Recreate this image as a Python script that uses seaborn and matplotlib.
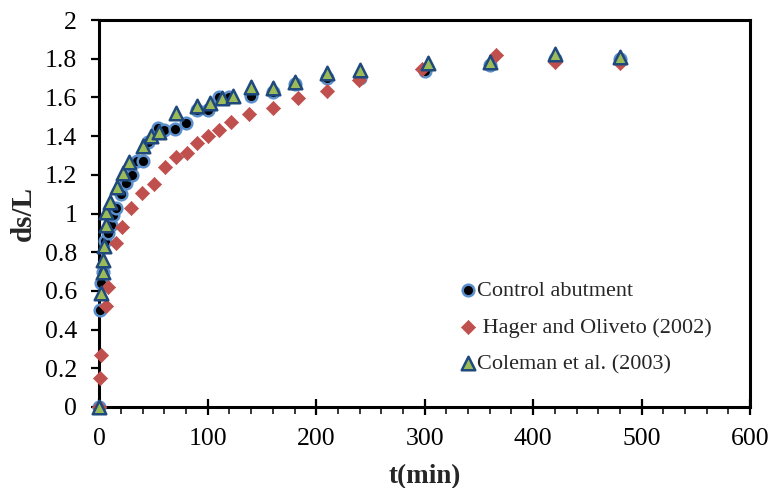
import numpy as np
import pandas as pd
import matplotlib
matplotlib.use("Agg")
import matplotlib.pyplot as plt
from matplotlib.ticker import MultipleLocator, FixedLocator
import seaborn as sns

# ---- data ----
t_ctrl = [0, 1, 2, 3, 5, 8, 11, 13, 15, 20, 25, 30, 35, 40, 45, 54, 60, 70, 80, 90,
          100, 110, 120, 140, 160, 180, 210, 240, 300, 360, 420, 480]
v_ctrl = [0, 0.50, 0.64, 0.70, 0.86, 0.90, 0.94, 0.99, 1.03, 1.10, 1.16, 1.20, 1.27, 1.27,
          1.37, 1.44, 1.43, 1.435, 1.47, 1.535, 1.535, 1.60, 1.60, 1.605, 1.63, 1.67,
          1.70, 1.70, 1.735, 1.77, 1.80, 1.80]

t_hag = [0, 1, 2, 6, 8, 15, 21, 29, 39, 50, 61, 71, 81, 90, 100, 110, 121, 138, 160,
         183, 210, 239, 298, 366, 420, 480]
v_hag = [0, 0.15, 0.27, 0.52, 0.62, 0.85, 0.93, 1.03, 1.105, 1.155, 1.24, 1.29, 1.315,
         1.365, 1.40, 1.43, 1.475, 1.515, 1.547, 1.595, 1.633, 1.69, 1.745, 1.82, 1.785, 1.78]

t_col = [0, 1.5, 3, 3.5, 4, 6, 6.5, 10, 16, 22, 27.5, 40, 48, 55, 71, 90, 102, 113, 123,
         140, 160, 180, 210, 240, 303, 360, 420, 480]
v_col = [0, 0.59, 0.70, 0.76, 0.83, 0.94, 1.01, 1.06, 1.135, 1.21, 1.265, 1.35, 1.40, 1.42,
         1.52, 1.555, 1.57, 1.595, 1.605, 1.655, 1.65, 1.68, 1.725, 1.74, 1.78, 1.785,
         1.825, 1.81]

labels = ["Control abutment", " Hager and Oliveto (2002)", "Coleman et al. (2003)"]
x_ticks = [0, 100, 200, 300, 400, 500, 600]
y_ticks = [0, 0.2, 0.4, 0.6, 0.8, 1.0, 1.2, 1.4, 1.6, 1.8, 2.0]
y_ticklabels = ["0", "0.2", "0.4", "0.6", "0.8", "1", "1.2", "1.4", "1.6", "1.8", "2"]

df_ctrl = pd.DataFrame({"t": t_ctrl, "v": v_ctrl})
df_hag = pd.DataFrame({"t": t_hag, "v": v_hag})
df_col = pd.DataFrame({"t": t_col, "v": v_col})

sns.set_theme(style="white")
plt.rcParams["font.family"] = ["Liberation Serif", "DejaVu Serif"]

fig = plt.figure(figsize=(7.71, 4.88), dpi=100)
ax = fig.add_axes([0.1288, 0.166, 0.9728 - 0.1288, 0.959 - 0.166])

sns.scatterplot(data=df_ctrl, x="t", y="v", ax=ax, marker="o", s=70,
                color="black", edgecolor="#5B8FCC", linewidth=1.8,
                label=labels[0], zorder=3, clip_on=False)
sns.scatterplot(data=df_hag, x="t", y="v", ax=ax, marker="D", s=52,
                color="#C0504D", edgecolor="#C0504D", linewidth=0.5,
                label=labels[1], zorder=4, clip_on=False)
sns.scatterplot(data=df_col, x="t", y="v", ax=ax, marker="^", s=95,
                color="#9BBB59", edgecolor="#1F497D", linewidth=1.8,
                label=labels[2], zorder=5, clip_on=False)

ax.set_xlim(0, 600)
ax.set_ylim(0, 2)
ax.xaxis.set_major_locator(FixedLocator(x_ticks))
ax.xaxis.set_minor_locator(MultipleLocator(20))
ax.yaxis.set_major_locator(FixedLocator(y_ticks))
ax.set_yticklabels(y_ticklabels)
ax.set_xticklabels([str(v) for v in x_ticks])

for sp in ax.spines.values():
    sp.set_visible(True)
    sp.set_color("black")
    sp.set_linewidth(2.2)

ax.tick_params(axis="x", which="major", direction="inout", length=12, width=1.6,
               labelsize=18.5, pad=9, colors="black", bottom=True)
ax.tick_params(axis="x", which="minor", direction="out", length=5, width=1.3,
               bottom=True)
ax.tick_params(axis="y", which="major", direction="out", length=6, width=1.6,
               labelsize=18.5, pad=10, colors="black", left=True)
ax.grid(False)

ax.set_xlabel("t(min)", fontsize=19.5, fontweight="bold", labelpad=10)
ax.set_ylabel("ds/L", fontsize=21, fontweight="bold", labelpad=6)

leg = ax.legend(loc="upper left", bbox_to_anchor=(0.5586, 0.327), frameon=False,
                fontsize=16, handlelength=0.5, handletextpad=0.15, borderpad=0,
                borderaxespad=0, labelspacing=0.72, markerscale=1.0)

fig.savefig("out.png", dpi=100)
